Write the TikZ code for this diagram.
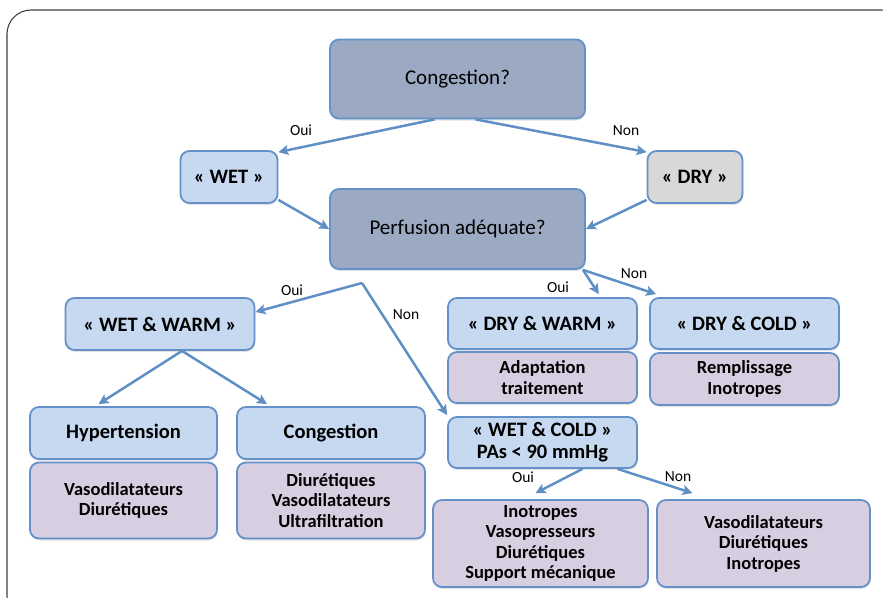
\documentclass[tikz,border=0pt]{standalone}
\usepackage{fontspec}
\setmainfont{Carlito}
\usetikzlibrary{arrows.meta,shadows}
\definecolor{boxline}{RGB}{100,146,200}
\definecolor{arrowline}{RGB}{96,143,198}
\definecolor{qfill}{RGB}{155,170,194}
\definecolor{wetfill}{RGB}{198,217,240}
\definecolor{dryfill}{RGB}{216,216,216}
\definecolor{drugfill}{RGB}{215,206,225}
\begin{document}
\begin{tikzpicture}[x=1pt,y=-1pt]
        \tikzstyle{box}=[draw=boxline,line width=1.8pt,rounded corners=9pt,align=center,inner sep=2pt,drop shadow={shadow xshift=0.6pt,shadow yshift=-2pt,opacity=0.22}]
        \tikzstyle{question}=[box,fill=qfill,font=\fontsize{21}{25}\selectfont,minimum width=255pt,minimum height=79pt]
        \tikzstyle{state}=[box,fill=wetfill,font=\bfseries\fontsize{20.5}{22}\selectfont,minimum height=52pt]
        \tikzstyle{drug}=[box,fill=drugfill,font=\bfseries\fontsize{18.5}{20.5}\selectfont]
        \tikzstyle{answer}=[font=\fontsize{15.5}{17}\selectfont,inner sep=0pt]
        \tikzstyle{edge}=[draw=arrowline,line width=2.5pt,-{Stealth[length=10pt,width=10pt,inset=2pt]}]
        \useasboundingbox (0,0) rectangle (883,597);
        % outer frame
        \draw[black!75,line width=1.1pt,rounded corners=24pt] (7,10) rectangle (905,620);
        \begin{scope}
            \node [question] (congq) at (457.5,79) {Congestion?};
            \node [state,minimum width=97pt] (wet) at (229,177) {« WET »};
            \node [state,fill=dryfill,minimum width=95pt] (dry) at (695,177) {« DRY »};
            \node [question,minimum height=80pt] (perfq) at (457.5,229) {Perfusion adéquate?};
            \node [state,minimum width=189pt] (wetwarm) at (160,324) {« WET \& WARM »};
            \node [state,minimum width=187pt] (hyper) at (123.5,433) {Hypertension};
            \node [drug,minimum width=187pt,minimum height=76pt] (hypertx) at (123.5,500.5) {Vasodilatateurs\\Diurétiques};
            \node [state,minimum width=188pt] (congest) at (331,433) {Congestion};
            \node [drug,minimum width=188pt,minimum height=76pt] (congesttx) at (331,500.5) {Diurétiques\\Vasodilatateurs\\Ultrafiltration};
            \node [state,minimum width=189pt,minimum height=51pt] (drywarm) at (542.5,323.5) {« DRY \& WARM »};
            \node [drug,minimum width=189pt,minimum height=51pt] (drywarmtx) at (542.5,377.5) {Adaptation\\traitement};
            \node [state,minimum width=189pt,minimum height=51pt] (drycold) at (744.5,323.5) {« DRY \& COLD »};
            \node [drug,minimum width=189pt,minimum height=52pt] (drycoldtx) at (744.5,379) {Remplissage\\Inotropes};
            \node [state,minimum width=189pt,minimum height=51pt] (wetcold) at (542.5,442.5) {« WET \& COLD »\\PAs < 90 mmHg};
            \node [drug,minimum width=215pt,minimum height=87pt] (lowbp) at (540.5,543.5) {Inotropes\\Vasopresseurs\\Diurétiques\\Support mécanique};
            \node [drug,minimum width=213pt,minimum height=87pt] (highbp) at (763.5,543.5) {Vasodilatateurs\\Diurétiques\\Inotropes};
            \coordinate (split) at (362,283);
            \path ([xshift=-23pt]congq.south) edge[edge] ([yshift=-2pt]wet.north east);
            \path ([xshift=18pt]congq.south) edge[edge] ([yshift=-2pt]dry.north west);
            \path ([yshift=4pt]wet.south east) edge[edge] (perfq.west);
            \path ([yshift=4pt]dry.south west) edge[edge] (perfq.east);
            \path (split) edge[edge] ([yshift=12pt]wetwarm.east);
            \path (split) edge[edge] ([yshift=1pt]wetcold.north west);
            \path ([xshift=-3pt]perfq.south east) edge[edge] ([xshift=-39pt,yshift=3pt]drywarm.north east);
            \path ([xshift=-3pt]perfq.south east) edge[edge] ([xshift=7pt,yshift=3pt]drycold.north west);
            \path ([xshift=22pt]wetwarm.south) edge[edge] ([xshift=-25pt,yshift=2pt]hyper.north);
            \path ([xshift=22pt]wetwarm.south) edge[edge] ([xshift=-64pt,yshift=2pt]congest.north);
            \path ([xshift=40pt]wetcold.south) edge[edge] ([xshift=-5pt,yshift=6pt]lowbp.north);
            \path ([xshift=75pt]wetcold.south) edge[edge] ([xshift=-71pt,yshift=6pt]highbp.north);
            \node [answer] (ouiA) at (301,130) {Oui};
            \node [answer] (nonA) at (626,131) {Non};
            \node [answer] (ouiB) at (292,290) {Oui};
            \node [answer] (nonB) at (406,315) {Non};
            \node [answer] (ouiC) at (558,287) {Oui};
            \node [answer] (nonC) at (634,274) {Non};
            \node [answer] (ouiD) at (523,477) {Oui};
            \node [answer] (nonD) at (678,477) {Non};
        \end{scope}
\end{tikzpicture}
\end{document}
